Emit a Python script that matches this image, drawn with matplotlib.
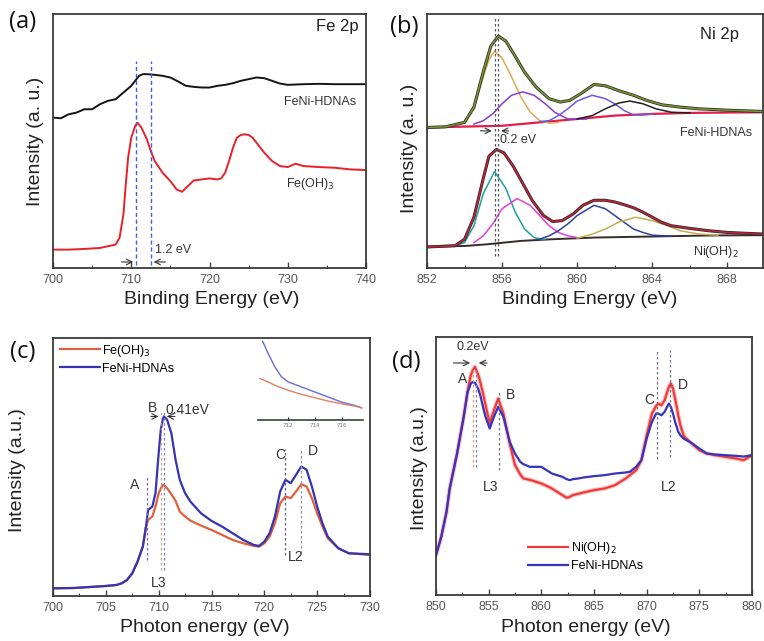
import matplotlib
matplotlib.use("Agg")
import matplotlib.pyplot as plt
from matplotlib.ticker import MultipleLocator

plt.rcParams['font.family'] = ['Liberation Sans', 'DejaVu Sans']

# ---------------- Panel (a) Fe 2p XPS ----------------
a_feni_x = [700, 701, 702, 703, 704, 705, 706, 707, 708, 709, 710, 710.5, 711, 711.5, 712, 713, 714,
            715, 716, 717, 718, 719, 720, 721, 722, 723, 724, 725, 726, 727, 728, 729, 730, 732, 734,
            736, 738, 740]
a_feni_y = [450, 448, 460, 465, 475, 475, 490, 500, 505, 525, 545, 560, 575, 580, 580, 578, 575,
            570, 558, 545, 542, 540, 540, 545, 548, 553, 560, 565, 570, 568, 560, 552, 548, 550, 551,
            550, 550, 550]
a_feoh_x = [700, 702, 704, 706, 707, 708, 708.5, 709, 709.3, 709.6, 710, 710.5, 710.8, 711.3, 712,
            712.5, 713, 714, 715, 715.8, 716.5, 717, 718, 719, 720, 721, 721.5, 722, 722.5, 723,
            723.5, 724, 724.5, 725, 725.5, 726, 727, 728, 729, 730, 731, 732, 734, 736, 738, 740]
a_feoh_y = [55, 55, 57, 60, 65, 70, 90, 160, 250, 330, 390, 425, 435, 420, 385,
            350, 320, 285, 260, 235, 228, 240, 262, 265, 268, 265, 268, 285, 320, 360,
            390, 398, 400, 398, 390, 375, 345, 320, 305, 302, 312, 305, 302, 300, 295, 293]
a_shift_lines = [710.6, 712.5]

# ---------------- Panel (b) Ni 2p XPS ----------------
b_up_bg_x = [852, 856, 858, 860, 862, 864, 866, 870]
b_up_bg_y = [415, 420, 430, 440, 450, 455, 458, 460]
b_up_env_x = [852, 853, 854, 854.5, 855, 855.4, 855.8, 856.2, 856.7, 857.2, 857.8, 858.5, 859.1,
              859.6, 860.2, 860.9, 861.5, 862.3, 863, 863.7, 864.5, 865.5, 866.5, 868, 870]
b_up_env_y = [415, 417, 430, 475, 580, 655, 685, 670, 625, 578, 535, 500, 490,
              495, 515, 542, 538, 522, 510, 495, 482, 475, 470, 466, 462]
b_up_c1_x = [852.5, 853, 854, 854.5, 855, 855.3, 855.6, 856, 856.5, 857, 857.5, 858, 858.5, 859]
b_up_c1_y = [415, 417, 430, 470, 565, 615, 640, 620, 565, 505, 460, 435, 428, 430]
b_up_c2_x = [854.5, 855, 855.5, 856, 856.5, 857.1, 857.7, 858.3, 858.8, 859.5, 860.5]
b_up_c2_y = [425, 435, 455, 485, 510, 520, 510, 485, 460, 440, 440]
b_up_c3_x = [858, 858.5, 859, 859.5, 860, 860.8, 861.5, 862, 862.5, 863, 863.5, 864]
b_up_c3_y = [432, 435, 450, 470, 493, 510, 500, 485, 465, 452, 452, 455]
b_up_c4_x = [860, 860.8, 861.5, 862.2, 862.8, 863.5, 864.2, 865, 866]
b_up_c4_y = [440, 450, 470, 487, 493, 485, 470, 460, 458]

b_lo_bg_x = [852, 854, 855.2, 857, 858.7, 861, 864, 867, 870]
b_lo_bg_y = [63, 65, 70, 80, 85, 90, 93, 96, 97]
b_lo_env_x = [852, 853.5, 854, 854.5, 855, 855.3, 855.7, 856.1, 856.6, 857.1, 857.6, 858.2, 858.7,
              859.2, 859.8, 860.3, 860.9, 861.5, 862, 862.5, 863, 863.5, 864, 864.5, 865, 866,
              867, 868, 870]
b_lo_env_y = [62, 66, 85, 150, 265, 330, 350, 340, 300, 250, 200, 155, 137,
              140, 160, 185, 200, 200, 195, 187, 178, 165, 150, 135, 125, 117,
              110, 105, 100]
b_lo_c1_x = [853.5, 854, 854.5, 855, 855.6, 856.2, 856.7, 857.2, 857.7, 858.3]
b_lo_c1_y = [66, 75, 125, 220, 285, 235, 165, 115, 90, 83]
b_lo_c2_x = [854.5, 855, 855.5, 856, 856.8, 857.5, 858, 858.5, 859, 859.5, 860]
b_lo_c2_y = [75, 95, 130, 175, 205, 185, 155, 125, 105, 95, 90]
b_lo_c3_x = [858, 858.5, 859, 859.5, 860, 860.9, 861.5, 862, 862.5, 863, 863.5, 864, 865]
b_lo_c3_y = [85, 95, 110, 130, 155, 185, 175, 155, 135, 115, 105, 97, 94]
b_lo_c4_x = [860, 860.8, 861.5, 862.2, 863.1, 864, 864.8, 865.5, 866.5, 867.5]
b_lo_c4_y = [88, 100, 115, 135, 150, 140, 125, 110, 100, 97]
b_shift_lines = [855.6, 855.8]

# ---------------- Panel (c) Fe L-edge XAS ----------------
c_x = [700, 702, 704, 705, 706, 706.5, 707, 707.5, 708, 708.5, 708.8, 709, 709.4, 709.7, 710,
       710.2, 710.4, 710.5, 710.8, 711.2, 711.6, 712, 712.5, 713, 714, 715, 716, 717, 718, 719,
       719.5, 720, 720.5, 721, 721.5, 722, 722.5, 723, 723.5, 724, 724.5, 725, 725.5, 726, 727,
       728, 730]
c_feoh = [23, 24, 28, 30, 33, 38, 48, 68, 103, 148, 208, 228, 238, 268, 308,
          322, 333, 332, 323, 305, 285, 253, 238, 226, 211, 198, 183, 168, 158, 150,
          148, 158, 178, 218, 278, 298, 293, 313, 335, 328, 293, 248, 208, 173, 143,
          128, 123]
c_feni = [23, 24, 28, 30, 33, 38, 48, 68, 103, 148, 208, 258, 268, 308, 428,
          498, 530, 538, 528, 488, 408, 348, 308, 283, 248, 225, 208, 188, 168, 153,
          150, 163, 188, 238, 313, 348, 338, 363, 388, 378, 328, 268, 218, 178, 143,
          128, 125]
c_inset_x_blue = [710.1, 710.5, 711, 711.5, 712, 713, 714, 715, 716, 717, 717.5]
c_inset_blue = [235, 200, 160, 130, 115, 100, 85, 70, 55, 45, 38]
c_inset_x_red = [709.9, 710.5, 711, 712, 713, 714, 715, 716, 717, 717.5]
c_inset_red = [125, 115, 105, 90, 78, 68, 58, 50, 43, 38]

# ---------------- Panel (d) Ni L-edge XAS ----------------
d_x = [850, 850.5, 851, 851.3, 852, 852.6, 853, 853.3, 853.5, 853.7, 854, 854.2, 854.5, 854.7,
       855.1, 855.5, 855.9, 856.4, 857, 857.5, 858, 858.3, 858.9, 859, 860, 860.5, 861, 862,
       862.4, 862.7, 863, 863.5, 864, 865, 866, 867, 868, 868.4, 869, 869.5, 870, 870.5, 870.9,
       871.1, 871.4, 871.7, 872.1, 872.3, 872.5, 872.7, 873, 873.2, 873.5, 873.6, 874.1, 875,
       875.7, 876.5, 877.5, 878.5, 879.2, 880]
d_nioh = [120, 175, 250, 320, 425, 530, 612, 660, 676, 685, 662, 640, 600, 570,
          515, 555, 590, 545, 455, 390, 362, 350, 346, 345, 335, 328, 320, 300,
          292, 295, 300, 304, 308, 315, 320, 330, 350, 360, 375, 405, 480, 545, 568,
          575, 570, 585, 625, 635, 620, 590, 540, 510, 480, 475, 460, 435,
          425, 420, 415, 410, 405, 420]
d_feni = [120, 175, 250, 320, 425, 530, 610, 635, 640, 637, 620, 600, 560, 535,
          500, 535, 565, 535, 460, 425, 400, 393, 385, 385, 385, 375, 365, 355,
          348, 345, 348, 350, 353, 357, 360, 365, 368, 370, 385, 405, 470, 520, 545,
          545, 540, 550, 575, 565, 545, 520, 490, 480, 470, 468, 460, 440,
          425, 422, 420, 418, 416, 420]

W, H = 764, 641
fig = plt.figure(figsize=(W / 100, H / 100), dpi=100)


def add_ax(l, t, r, b):
    return fig.add_axes([l / W, 1 - b / H, (r - l) / W, (b - t) / H])


def style(ax, major, minor):
    for s in ax.spines.values():
        s.set_color('#3a3a3a')
        s.set_linewidth(1.3)
    ax.set_yticks([])
    ax.xaxis.set_major_locator(MultipleLocator(major))
    ax.xaxis.set_minor_locator(MultipleLocator(minor))
    ax.tick_params(axis='x', which='major', direction='in', length=4, width=1, color='#444',
                   labelsize=9, labelcolor='#555', pad=4)
    ax.tick_params(axis='x', which='minor', direction='in', length=2.5, width=0.8, color='#444')


TXT = '#333333'

# ---- (a)
axa = add_ax(53, 14, 366, 268)
axa.plot(a_feni_x, a_feni_y, color='#151515', lw=1.4)
axa.plot(a_feoh_x, a_feoh_y, color='#e8202a', lw=1.4)
for xv in a_shift_lines:
    axa.plot([xv, xv], [10, 620], color='#4a5ae0', lw=1.0, ls=(0, (3, 2)))
axa.annotate('', xy=(a_shift_lines[0], 18), xytext=(708.4, 18),
             arrowprops=dict(arrowstyle='->', lw=0.8, color='#333'))
axa.annotate('', xy=(a_shift_lines[1], 18), xytext=(714.7, 18),
             arrowprops=dict(arrowstyle='->', lw=0.8, color='#333'))
axa.text(713.0, 55, '1.2 eV', fontsize=9, color=TXT, va='center', ha='left')
axa.text(738.8, 498, 'FeNi-HDNAs', fontsize=9, color=TXT, ha='right', va='center')
axa.text(729.8, 250, 'Fe(OH)$_3$', fontsize=9, color=TXT, ha='left', va='center')
axa.text(739, 722, 'Fe 2p', fontsize=12, color='#222', ha='right', va='center')
axa.set_xlim(700, 740)
axa.set_ylim(0, 760)
style(axa, 10, 5)

# ---- (b)
axb = add_ax(427, 14, 763, 268)
axb.plot(b_up_bg_x, b_up_bg_y, color='#e0204a', lw=1.6)
axb.plot(b_up_c1_x, b_up_c1_y, color='#e0a850', lw=1.1)
axb.plot(b_up_c2_x, b_up_c2_y, color='#8a3cc8', lw=1.1)
axb.plot(b_up_c3_x, b_up_c3_y, color='#6a5ae0', lw=1.1)
axb.plot(b_up_c4_x, b_up_c4_y, color='#202020', lw=1.1)
axb.plot(b_up_env_x, b_up_env_y, color='#2a2a2a', lw=2.2)
axb.plot(b_up_env_x, b_up_env_y, color='#7a9a30', lw=1.1)
axb.plot(b_lo_bg_x, b_lo_bg_y, color='#3a2a2a', lw=1.4)
axb.plot(b_lo_c1_x, b_lo_c1_y, color='#20a0a0', lw=1.1)
axb.plot(b_lo_c2_x, b_lo_c2_y, color='#e040d0', lw=1.1)
axb.plot(b_lo_c3_x, b_lo_c3_y, color='#3040a0', lw=1.1)
axb.plot(b_lo_c4_x, b_lo_c4_y, color='#c0b050', lw=1.1)
axb.plot(b_lo_env_x, b_lo_env_y, color='#2a2a2a', lw=2.2)
axb.plot(b_lo_env_x, b_lo_env_y, color='#c8203a', lw=1.1)
for xv in b_shift_lines:
    axb.plot([xv, xv], [35, 745], color='#555', lw=0.9, ls=(0, (2, 2)))
axb.annotate('', xy=(b_shift_lines[0], 405), xytext=(854.7, 405),
             arrowprops=dict(arrowstyle='->', lw=0.8, color='#333'))
axb.annotate('', xy=(b_shift_lines[1], 405), xytext=(856.5, 405),
             arrowprops=dict(arrowstyle='->', lw=0.8, color='#333'))
axb.text(855.9, 378, '0.2 eV', fontsize=9, color=TXT, ha='left', va='center')
axb.text(869.3, 400, 'FeNi-HDNAs', fontsize=9, color=TXT, ha='right', va='center')
axb.text(868.6, 48, 'Ni(OH)$_2$', fontsize=9, color=TXT, ha='right', va='center')
axb.text(868.6, 690, 'Ni 2p', fontsize=12, color='#222', ha='right', va='center')
axb.set_xlim(852, 869.9)
axb.set_ylim(0, 750)
style(axb, 4, 2)

# ---- (c)
axc = add_ax(53, 338, 370, 596)
red_c, blue_c = '#e0603c', '#3434b4'
axc.plot(c_x, c_feoh, color=red_c, lw=1.6, label='Fe(OH)$_3$')
axc.plot(c_x, c_feni, color=blue_c, lw=1.6, label='FeNi-HDNAs')
axc.plot([708.9, 708.9], [108, 358], color='#8a5ac8', lw=0.9, ls=(0, (2, 2)))
axc.plot([710.25, 710.25], [78, 555], color='#d0a080', lw=0.9, ls=(0, (2, 2)))
axc.plot([710.5, 710.5], [78, 555], color='#8080c0', lw=0.9, ls=(0, (2, 2)))
axc.plot([722.0, 722.0], [123, 440], color='#606070', lw=0.9, ls=(0, (2, 2)))
axc.plot([723.5, 723.5], [128, 440], color='#9090a0', lw=0.9, ls=(0, (2, 2)))
axc.annotate('', xy=(710.25, 538), xytext=(709.0, 538),
             arrowprops=dict(arrowstyle='->', lw=0.8, color='#333'))
axc.annotate('', xy=(710.5, 538), xytext=(711.8, 538),
             arrowprops=dict(arrowstyle='->', lw=0.8, color='#333'))
axc.text(707.7, 333, 'A', fontsize=10, color=TXT, ha='center', va='center')
axc.text(709.4, 563, 'B', fontsize=10, color=TXT, ha='center', va='center')
axc.text(710.6, 558, '0.41eV', fontsize=10, color=TXT, ha='left', va='center')
axc.text(721.5, 423, 'C', fontsize=10, color=TXT, ha='center', va='center')
axc.text(724.6, 433, 'D', fontsize=10, color=TXT, ha='center', va='center')
axc.text(723.0, 118, 'L2', fontsize=10, color=TXT, ha='center', va='center')
axc.text(710.0, 38, 'L3', fontsize=10, color=TXT, ha='center', va='center')
axc.set_xlim(700, 730)
axc.set_ylim(0, 773)
style(axc, 5, 2.5)
axc.legend(loc='upper left', bbox_to_anchor=(-0.01, 1.02), frameon=False, fontsize=9,
           handlelength=3.2, handletextpad=0.2, labelspacing=0.3, borderpad=0.3)

# inset
axi = add_ax(258, 338, 363, 420)
axi.plot(c_inset_x_blue, c_inset_blue, color='#6a6ad8', lw=1.0)
axi.plot(c_inset_x_red, c_inset_red, color='#e08060', lw=1.0)
axi.set_xlim(709.75, 717.6)
axi.set_ylim(2, 245)
for k in ['top', 'left', 'right']:
    axi.spines[k].set_visible(False)
axi.spines['bottom'].set_color('#2e4a2e')
axi.spines['bottom'].set_linewidth(1.2)
axi.set_yticks([])
axi.set_xticks([712, 714, 716])
axi.tick_params(axis='x', direction='in', length=2, labelsize=4.5, labelcolor='#777', pad=2)
axi.patch.set_alpha(0)

# ---- (d)
axd = add_ax(436, 337, 752, 595)
red_d, blue_d = '#f03a3a', '#3434c0'
axd.plot(d_x, d_nioh, color='#f8a0a0', lw=3.2, alpha=0.6)
axd.plot(d_x, d_nioh, color=red_d, lw=1.6, label='Ni(OH)$_2$')
axd.plot(d_x, d_feni, color=blue_d, lw=1.6, label='FeNi-HDNAs')
axd.plot([853.5, 853.5], [385, 685], color='#e0a060', lw=0.9, ls=(0, (2, 2)))
axd.plot([853.8, 853.8], [385, 685], color='#8080c0', lw=0.9, ls=(0, (2, 2)))
axd.plot([856.0, 856.0], [375, 610], color='#707080', lw=0.9, ls=(0, (2, 2)))
axd.plot([871.0, 871.0], [410, 740], color='#707080', lw=0.9, ls=(0, (2, 2)))
axd.plot([872.2, 872.2], [415, 735], color='#707080', lw=0.9, ls=(0, (2, 2)))
axd.annotate('', xy=(853.5, 697), xytext=(851.4, 697),
             arrowprops=dict(arrowstyle='->', lw=0.8, color='#333'))
axd.annotate('', xy=(853.8, 697), xytext=(855.1, 697),
             arrowprops=dict(arrowstyle='->', lw=0.8, color='#333'))
axd.text(853.5, 745, '0.2eV', fontsize=9, color=TXT, ha='center', va='center')
axd.text(852.5, 650, 'A', fontsize=10, color=TXT, ha='center', va='center')
axd.text(857.1, 600, 'B', fontsize=10, color=TXT, ha='center', va='center')
axd.text(870.2, 585, 'C', fontsize=10, color=TXT, ha='center', va='center')
axd.text(873.4, 630, 'D', fontsize=10, color=TXT, ha='center', va='center')
axd.text(855.2, 325, 'L3', fontsize=10, color=TXT, ha='center', va='center')
axd.text(872.1, 325, 'L2', fontsize=10, color=TXT, ha='center', va='center')
axd.set_xlim(850, 880)
axd.set_ylim(0, 775)
style(axd, 5, 2.5)
axd.legend(loc='upper left', bbox_to_anchor=(0.26, 0.25), frameon=False, fontsize=9,
           handlelength=3.2, handletextpad=0.2, labelspacing=0.3, borderpad=0.3)

# ---- axis labels
LBL = 14
fig.text(212 / W, 1 - 299 / H, 'Binding Energy (eV)', fontsize=LBL, color='#222', ha='center', va='center')
fig.text(590 / W, 1 - 299 / H, 'Binding Energy (eV)', fontsize=LBL, color='#222', ha='center', va='center')
fig.text(205 / W, 1 - 628 / H, 'Photon energy (eV)', fontsize=LBL, color='#222', ha='center', va='center')
fig.text(586 / W, 1 - 628 / H, 'Photon energy (eV)', fontsize=LBL, color='#222', ha='center', va='center')
fig.text(36 / W, 1 - 141 / H, 'Intensity (a. u.)', fontsize=LBL, color='#222', ha='center', va='center', rotation=90)
fig.text(410 / W, 1 - 148 / H, 'Intensity (a. u.)', fontsize=LBL, color='#222', ha='center', va='center', rotation=90)
fig.text(18 / W, 1 - 470 / H, 'Intensity (a.u.)', fontsize=LBL, color='#222', ha='center', va='center', rotation=90)
fig.text(419 / W, 1 - 468 / H, 'Intensity (a.u.)', fontsize=LBL, color='#222', ha='center', va='center', rotation=90)

# ---- panel letters
for lab, x, y in [('(a)', 23, 22), ('(b)', 404, 27), ('(c)', 23, 352), ('(d)', 406, 362)]:
    fig.text(x / W, 1 - y / H, lab, fontsize=17, color='#111', ha='center', va='center',
             family=['Open Sans', 'DejaVu Sans'])

fig.savefig('out.png', dpi=100)
